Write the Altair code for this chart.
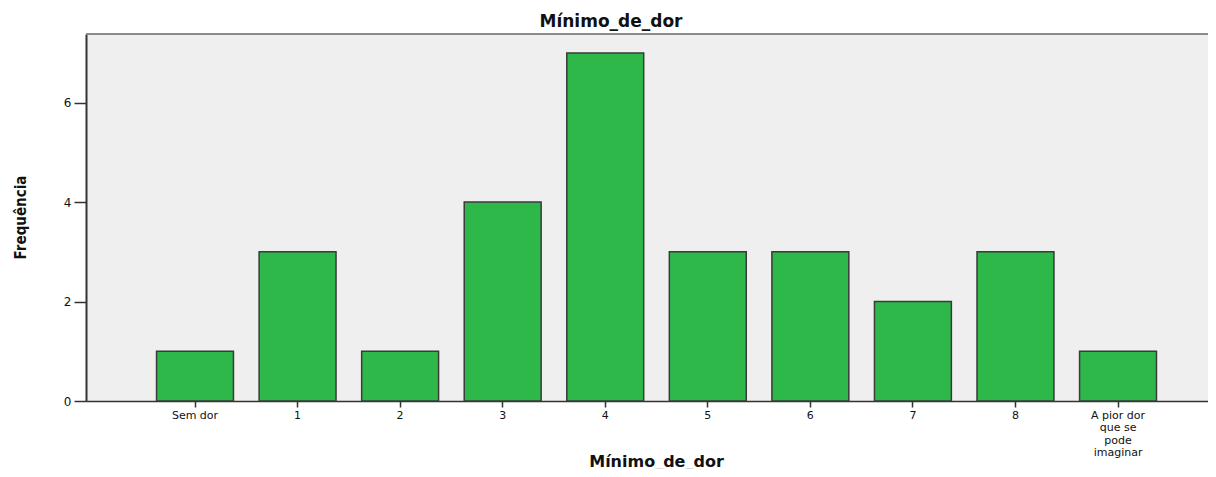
import altair as alt
import pandas as pd

categories = ["Sem dor", "1", "2", "3", "4", "5", "6", "7", "8",
              "A pior dor que se pode imaginar"]
frequencies = [1, 3, 1, 4, 7, 3, 3, 2, 3, 1]
y_ticks = [0, 2, 4, 6]

df = pd.DataFrame({"cat": categories, "freq": frequencies})

W, H = 1122, 367
FONT = "DejaVu Sans, Liberation Sans, sans-serif"
NARROW = "DejaVu Sans Condensed, Liberation Sans, sans-serif"

label_expr = ("datum.value == 'A pior dor que se pode imaginar' ? "
              "['A pior dor', 'que se', 'pode', 'imaginar'] : datum.label")

bars = alt.Chart(df).mark_bar(
    color="#2EB84A", stroke="#3a3a3a", strokeWidth=1.5
).encode(
    x=alt.X("cat:N", sort=categories,
            scale=alt.Scale(paddingInner=0.25, paddingOuter=0.595, align=0.578),
            axis=alt.Axis(title="Mínimo_de_dor", labelAngle=0, labelExpr=label_expr,
                          labelFont=FONT, labelFontSize=11,
                          labelColor="#111", labelLineHeight=12.5, labelPadding=2,
                          tickColor="#333", tickSize=6, tickWidth=1.5,
                          domainColor="#333", domainWidth=1.5,
                          titleFont=FONT, titleFontSize=16,
                          titleFontWeight="bold", titleColor="#111",
                          titleX=570, titleY=65, titleBaseline="alphabetic",
                          titleAnchor="middle")),
    y=alt.Y("freq:Q",
            scale=alt.Scale(domain=[0, 7.38], nice=False),
            axis=alt.Axis(title="Frequência", values=y_ticks, grid=False,
                          labelFont=FONT, labelFontSize=12,
                          labelColor="#111", labelPadding=3,
                          tickColor="#333", tickSize=12, tickWidth=1.5,
                          domainColor="#333", domainWidth=2,
                          titleFont=NARROW, titleFontSize=15,
                          titleFontWeight="bold", titleColor="#111",
                          titleAngle=-90, titleX=-66, titleY=183,
                          titleAlign="center", titleBaseline="middle")),
)

top_border = alt.Chart(df).mark_rule(color="#8a8a8a", strokeWidth=1.5).encode(
    x=alt.value(0), x2=alt.value(W), y=alt.value(0)
)

chart = alt.layer(top_border, bars).properties(
    width=W, height=H,
    title=alt.TitleParams("Mínimo_de_dor", font=FONT, fontSize=17,
                          fontWeight="bold", color="#111", anchor="middle",
                          frame="group", dx=-36, dy=18, offset=7,
                          baseline="alphabetic"),
    autosize=alt.AutoSizeParams(type="none"),
    padding={"left": 78, "top": 26, "right": 0, "bottom": 68},
).configure_view(fill="#EFEFEF", stroke=None)

chart.save("out.html", embed_options={"renderer": "svg", "actions": False})
